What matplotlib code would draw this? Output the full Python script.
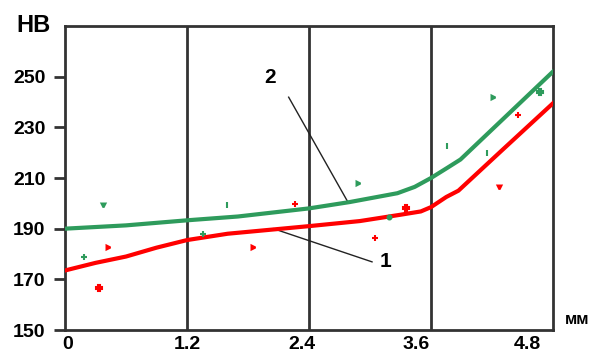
import matplotlib
matplotlib.use("Agg")
import matplotlib.pyplot as plt

plt.rcParams['font.family'] = ['Liberation Sans', 'DejaVu Sans']

# кривая 1 (красная) и кривая 2 (зелёная)
x1 = [0, 0.3, 0.6, 0.9, 1.2, 1.6, 2.0, 2.4, 2.9, 3.3, 3.5, 3.6, 3.75, 3.87, 4.3, 4.8]
hb1 = [173.5, 176.5, 179, 182.5, 185.5, 188, 189.5, 191, 193, 195.5, 196.8, 198.5, 202.5, 205, 221, 239.5]

x2 = [0, 0.6, 1.2, 1.7, 2.4, 2.8, 3.27, 3.44, 3.6, 3.76, 3.89, 4.8]
hb2 = [190, 191.3, 193.3, 194.8, 198, 200.5, 204, 206.5, 210, 214, 217.3, 252]

# экспериментальные точки
gx = [0.19, 1.36, 4.67, 0.37, 1.59, 3.76, 4.15, 2.88, 4.21, 3.19]
gy = [178.9, 188, 243.9, 199.5, 199.5, 222.5, 220, 208.2, 241.9, 194.8]
gm = ['+', '+', 'P', 'v', '|', '|', '|', '>', '>', 'o']

rx = [0.33, 2.26, 3.35, 3.05, 4.46, 0.42, 1.85, 4.27]
ry = [166.6, 199.9, 198.3, 186.4, 234.7, 182.9, 182.9, 206.6]
rm = ['P', '+', 'P', '+', '+', '>', '>', 'v']

xticks = [0, 1.2, 2.4, 3.6, 4.8]
xlabels = ['0', '1.2', '2.4', '3.6', '4.8']
yticks = [150, 170, 190, 210, 230, 250]

red = '#ff0000'
green = '#2e9b5c'
dark = '#333333'

fig = plt.figure(figsize=(5.92, 3.56), dpi=100)
ax = fig.add_axes([0.1098, 0.073, 0.8243, 0.854])

for xv in xticks[1:4]:
    ax.axvline(xv, color=dark, lw=2, zorder=1)

ax.plot(x1, hb1, color=red, lw=3, zorder=3)
ax.plot(x2, hb2, color=green, lw=3, zorder=3)

for xv, yv, m in zip(gx, gy, gm):
    sz = 4 if m in '+P|' else 2.8
    ax.plot(xv, yv, marker=m, color=green, ms=sz, mew=1.5, ls='none', zorder=4)
for xv, yv, m in zip(rx, ry, rm):
    sz = 4 if m in '+P|' else 2.8
    ax.plot(xv, yv, marker=m, color=red, ms=sz, mew=1.5, ls='none', zorder=4)

# выноски
ax.plot([2.2, 2.78], [241.9, 200.7], color='#222222', lw=1, zorder=2)
ax.plot([2.05, 3.02], [190, 176.9], color='#222222', lw=1, zorder=2)
ax.text(2.02, 249.8, '2', fontsize=15, fontweight='bold', ha='center', va='center')
ax.text(3.15, 177, '1', fontsize=15, fontweight='bold', ha='center', va='center')

ax.set_xlim(0, 4.8)
ax.set_ylim(150, 270)
ax.set_yticks(yticks)
ax.set_yticklabels([str(v) for v in yticks], fontsize=14, fontweight='bold')
ax.set_xticks([0.03, 1.2, 2.33, 3.45, 4.55])
ax.set_xticklabels(xlabels, fontsize=14, fontweight='bold')
ax.tick_params(axis='x', length=0, pad=4)
ax.tick_params(axis='y', length=8, width=2, color=dark, pad=6)

for s in ax.spines.values():
    s.set_color(dark)
    s.set_linewidth(2)

fig.text(34 / 592, 1 - 25 / 356, 'НВ', fontsize=17, fontweight='bold', ha='center', va='center')
fig.text(577 / 592, 1 - 320 / 356, 'мм', fontsize=12, fontweight='bold', ha='center', va='center')

fig.savefig('out.png', dpi=100)
